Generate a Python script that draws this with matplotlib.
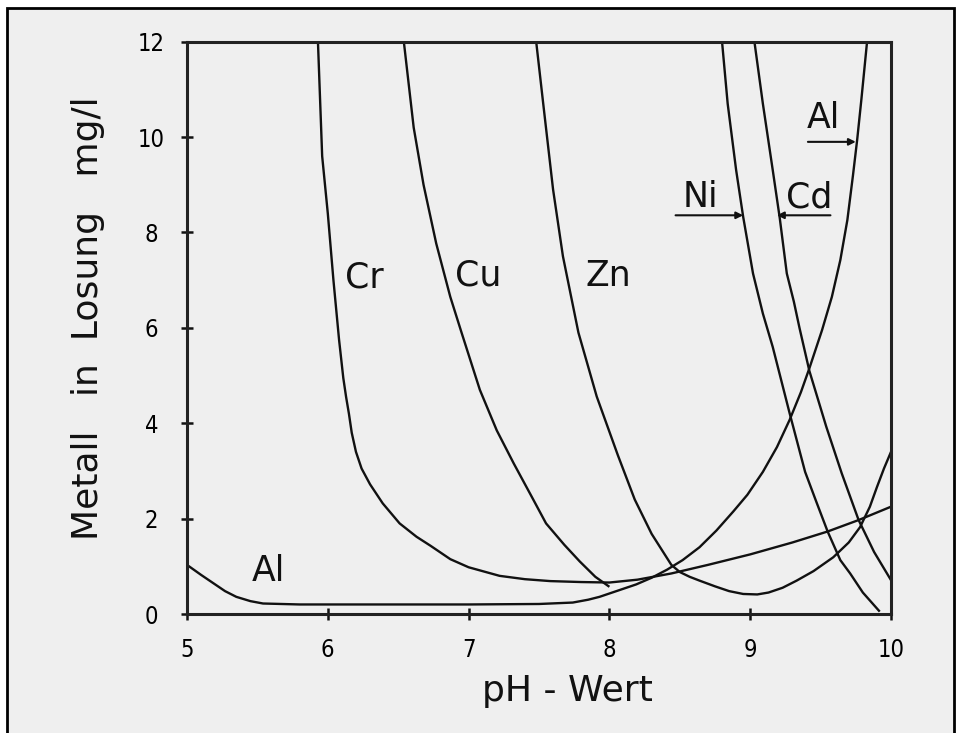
import matplotlib
matplotlib.use("Agg")
import matplotlib.pyplot as plt
from matplotlib.patches import Rectangle
from matplotlib.font_manager import FontProperties

# ---- data ----
cr_ph = [5.93, 5.96, 6.00, 6.04, 6.08, 6.11, 6.13, 6.15, 6.17, 6.20, 6.24, 6.30, 6.39, 6.51, 6.63, 6.73, 6.87, 7.00, 7.22, 7.40, 7.58, 7.80, 8.00, 8.20, 8.44, 8.70, 9.00, 9.30, 9.55, 9.77, 10.0]
cr_y = [12.0, 9.6, 8.4, 7.0, 5.75, 4.95, 4.55, 4.2, 3.8, 3.4, 3.05, 2.72, 2.32, 1.9, 1.62, 1.43, 1.15, 0.98, 0.8, 0.73, 0.69, 0.67, 0.66, 0.72, 0.85, 1.03, 1.25, 1.5, 1.73, 1.97, 2.25]

cu_ph = [6.54, 6.61, 6.68, 6.77, 6.87, 6.95, 7.08, 7.20, 7.32, 7.45, 7.55, 7.68, 7.79, 7.90, 8.00]
cu_y = [12.0, 10.2, 9.0, 7.77, 6.65, 5.9, 4.7, 3.85, 3.16, 2.45, 1.9, 1.45, 1.1, 0.78, 0.57]

zn_ph = [7.48, 7.53, 7.60, 7.67, 7.78, 7.91, 8.06, 8.18, 8.30, 8.44, 8.50, 8.57, 8.64, 8.75, 8.85, 8.95, 9.05, 9.13, 9.23, 9.33, 9.45, 9.59, 9.70, 9.78, 9.85, 9.90, 9.95, 10.0]
zn_y = [12.0, 10.7, 8.9, 7.5, 5.9, 4.56, 3.33, 2.4, 1.68, 1.03, 0.88, 0.78, 0.70, 0.58, 0.48, 0.42, 0.41, 0.45, 0.55, 0.70, 0.90, 1.19, 1.5, 1.82, 2.25, 2.66, 3.05, 3.4]

al_ph = [5.00, 5.10, 5.19, 5.27, 5.35, 5.45, 5.54, 5.80, 6.50, 7.00, 7.50, 7.74, 7.85, 7.93, 8.00, 8.19, 8.30, 8.41, 8.52, 8.64, 8.76, 8.88, 8.98, 9.09, 9.19, 9.28, 9.36, 9.42, 9.51, 9.58, 9.64, 9.69, 9.73, 9.76, 9.79, 9.83]
al_y = [1.03, 0.82, 0.64, 0.48, 0.36, 0.27, 0.22, 0.20, 0.20, 0.20, 0.21, 0.24, 0.30, 0.36, 0.43, 0.62, 0.76, 0.93, 1.13, 1.40, 1.75, 2.15, 2.50, 2.98, 3.50, 4.07, 4.65, 5.15, 5.95, 6.65, 7.42, 8.26, 9.2, 9.95, 10.8, 12.0]

ni_ph = [8.80, 8.84, 8.90, 8.95, 9.02, 9.09, 9.16, 9.28, 9.39, 9.47, 9.55, 9.64, 9.71, 9.80, 9.92]
ni_y = [12.0, 10.7, 9.31, 8.33, 7.14, 6.3, 5.6, 4.21, 2.98, 2.35, 1.73, 1.13, 0.85, 0.45, 0.05]

cd_ph = [9.03, 9.09, 9.16, 9.21, 9.26, 9.31, 9.35, 9.42, 9.54, 9.65, 9.77, 9.88, 10.0]
cd_y = [12.0, 10.7, 9.31, 8.3, 7.14, 6.55, 6.0, 5.1, 3.93, 2.95, 1.97, 1.3, 0.71]

x_ticks = [5, 6, 7, 8, 9, 10]
x_ticklabels = ["5", "6", "7", "8", "9", "10"]
y_ticks = [0, 2, 4, 6, 8, 10, 12]
y_ticklabels = ["0", "2", "4", "6", "8", "10", "12"]

labels = [("Cr", 6.26, 7.06), ("Cu", 7.07, 7.09), ("Zn", 7.99, 7.09), ("Al", 5.58, 0.90),
          ("Al", 9.52, 10.4), ("Ni", 8.65, 8.74), ("Cd", 9.42, 8.74)]
# (label tail, arrow head) for pointer lines
pointers = [((9.41, 9.9), (9.75, 9.9)), ((8.47, 8.36), (8.95, 8.36)), ((9.57, 8.36), (9.19, 8.36))]

# ---- figure ----
W, H = 962, 733
plt.rcParams['font.family'] = ['DejaVu Sans']
fig = plt.figure(figsize=(W / 100, H / 100), dpi=100, facecolor='white')
bg = '#efefef'
fig.patches.append(Rectangle((7 / W, -0.02), (954 - 7) / W, (H - 8) / H + 0.02,
                             transform=fig.transFigure, facecolor=bg, edgecolor='black',
                             linewidth=2.0, zorder=-10))

ax = fig.add_axes([187 / W, (H - 614) / H, (891 - 187) / W, (614 - 41.7) / H])
ax.set_zorder(1)
ax.set_facecolor(bg)
ax.set_xlim(5, 10)
ax.set_ylim(0, 12)

lc = '#111111'
lw = 1.7
for xs, ys in [(cr_ph, cr_y), (cu_ph, cu_y), (zn_ph, zn_y), (al_ph, al_y), (ni_ph, ni_y), (cd_ph, cd_y)]:
    ax.plot(xs, ys, color=lc, lw=lw, solid_capstyle='butt', solid_joinstyle='round', clip_on=True)

for txt, x, y in labels:
    ax.text(x, y, txt, fontsize=25, ha='center', va='center', color='#111111')

for (x0, y0), (x1, y1) in pointers:
    ax.annotate('', xy=(x1, y1), xytext=(x0, y0),
                arrowprops=dict(arrowstyle='-|>', lw=1.5, color='#111111',
                                mutation_scale=10, shrinkA=0, shrinkB=0))

for sp in ax.spines.values():
    sp.set_linewidth(2.2)
    sp.set_color('#222222')

tickfont = FontProperties(family='DejaVu Sans', stretch='condensed', size=17)
ax.set_xticks(x_ticks)
ax.set_xticklabels(x_ticklabels, fontproperties=tickfont)
ax.set_yticks(y_ticks)
ax.set_yticklabels(y_ticklabels, fontproperties=tickfont)
ax.tick_params(axis='both', direction='inout', length=8, width=1.8, color='#111111')
ax.tick_params(axis='x', pad=13.5)
ax.tick_params(axis='y', pad=21.5)
for lab in ax.get_yticklabels():
    lab.set_horizontalalignment('center')

fig.text(567 / W, 1 - 691 / H, "pH - Wert", fontsize=26, ha='center', va='center', color='#111111')
fig.text(88 / W, 1 - 318 / H, "Metall   in  Losung   mg/l", fontsize=26, rotation=90,
         ha='center', va='center', color='#111111')

fig.savefig('out.png', dpi=100, facecolor='white')
